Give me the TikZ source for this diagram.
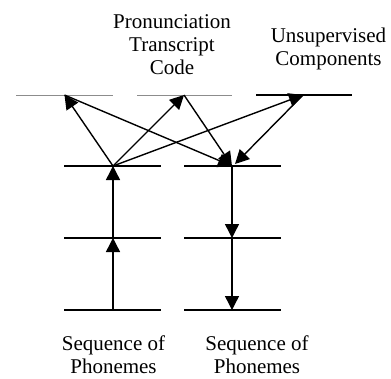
\documentclass[tikz,border=0pt]{standalone}
\usepackage{fontspec}
\setmainfont{Liberation Serif}
\usetikzlibrary{arrows.meta}
\begin{document}
\begin{tikzpicture}[x=1pt,y=-1pt,
  level/.style={line width=1.4pt,black},
  faint/.style={line width=0.9pt,black!45},
  conn/.style={line width=1.4pt,-{Triangle[length=14pt,width=14pt]}},
  lbl/.style={align=center,font=\fontsize{21}{23}\selectfont,inner sep=0pt}]
\useasboundingbox (0,0) rectangle (391,378);
% levels
\coordinate (t1) at (64.5,95);
\coordinate (t2) at (184,95);
\coordinate (t3) at (303,95);
\coordinate (l1) at (113,166);
\coordinate (l2) at (113,238);
\coordinate (l3) at (113,310);
\coordinate (r1) at (232,166);
\coordinate (r2) at (232,238);
\coordinate (r3) at (232,310);
\coordinate (r1b) at (235,164);
\draw[faint] (16,95) -- (113,95);
\draw[faint] (137,95) -- (232,95);
\draw[level] (256,95) -- (352,95);
\foreach \y in {166,238,310}{
  \draw[level] (64,\y) -- (161,\y);
  \draw[level] (184,\y) -- (281,\y);
}
% connectors
\draw[conn] (l3) -- (l2);
\draw[conn] (l2) -- (l1);
\draw[conn] (l1) -- (t1);
\draw[conn] (l1) -- (t2);
\draw[conn] (l1) -- (t3);
\draw[conn] (t1) -- (r1);
\draw[conn] (t2) -- (r1);
\draw[conn] (t3) -- (r1b);
\draw[conn] (r1) -- (r2);
\draw[conn] (r2) -- (r3);
% labels
\node[lbl,anchor=base] (ptc) at (172,74.5) {Pronunciation\\Transcript\\Code};
\node[lbl,anchor=base] (uc) at (328.5,65) {Unsupervised\\Components};
\node[lbl,anchor=base] (sp1) at (113.5,373.5) {Sequence of\\Phonemes};
\node[lbl,anchor=base] (sp2) at (257,373.5) {Sequence of\\Phonemes};
\end{tikzpicture}
\end{document}
